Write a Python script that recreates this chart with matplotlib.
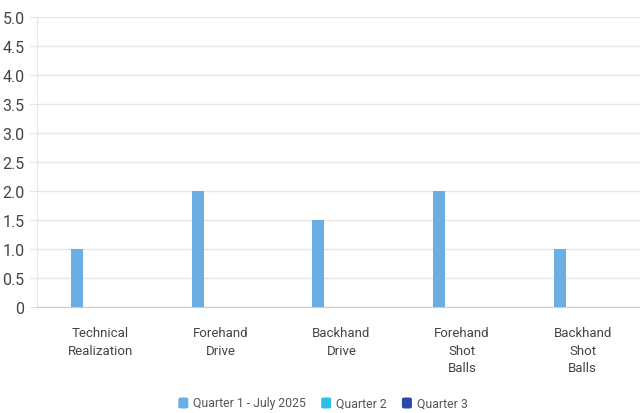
import matplotlib
matplotlib.use("Agg")
import matplotlib.pyplot as plt
import matplotlib.transforms as mtransforms
import numpy as np
from matplotlib.patches import FancyBboxPatch
from matplotlib.ticker import FuncFormatter

categories = ["Technical\nRealization", "Forehand\nDrive", "Backhand\nDrive",
              "Forehand\nShot\nBalls", "Backhand\nShot\nBalls"]
series_names = ["Quarter 1 - July 2025", "Quarter 2", "Quarter 3"]
q1 = [1, 2, 1.5, 2, 1]
q2 = [0, 0, 0, 0, 0]
q3 = [0, 0, 0, 0, 0]
colors = ["#6aaee3", "#2bbfe6", "#2e48a6"]

plt.rcParams["font.family"] = ["Roboto", "DejaVu Sans"]

W, H = 640, 414
fig = plt.figure(figsize=(W / 100, H / 100), dpi=100)
ax = fig.add_axes([0.058, 0.256, 0.942, 0.7])

x = np.arange(len(categories))
offsets = [-1 / 6, 0, 1 / 6]
width = 0.1
for vals, off, c, name in zip([q1, q2, q3], offsets, colors, series_names):
    ax.bar(x + off, vals, width=width, color=c, label=name, zorder=3)

ax.set_xlim(-0.5, len(categories) - 0.5)
ax.set_ylim(0, 5)
ax.set_yticks(np.arange(0, 5.01, 0.5))
ax.yaxis.set_major_formatter(FuncFormatter(lambda v, p: "0" if v == 0 else f"{v:.1f}"))
ax.set_xticks(x)
ax.set_xticklabels(categories, fontsize=9.5, color="#444444", linespacing=1.45)
ax.tick_params(axis="x", length=0, pad=14)
ax.tick_params(axis="y", length=6, color="#e6e6e6", labelsize=11.5, labelcolor="#444444", pad=3)
ax.grid(axis="y", color="#e6e6e6", linewidth=1, zorder=0)

shift = mtransforms.ScaledTranslation(3 / 100, 0, fig.dpi_scale_trans)
for lab in ax.get_xticklabels():
    lab.set_transform(lab.get_transform() + shift)

for s in ["top", "right"]:
    ax.spines[s].set_visible(False)
ax.spines["left"].set_color("#e6e6e6")
ax.spines["bottom"].set_color("#cccccc")

# legend drawn by hand so all items sit on one centre line
renderer = fig.canvas.get_renderer()
leg_y = 1 - 404 / H
box_w, gap, item_gap = 10, 5, 15
texts = [fig.text(0, leg_y, n, fontsize=8.8, color="#555555", va="center") for n in series_names]
widths = [t.get_window_extent(renderer).width for t in texts]
total = sum(box_w + gap + w for w in widths) + item_gap * (len(widths) - 1)
cur = (W - total) / 2 + 3
for t, w, c in zip(texts, widths, colors):
    fig.patches.append(FancyBboxPatch((cur / W, leg_y - 5.5 / H), box_w / W, 11 / H,
                                      boxstyle="round,pad=0,rounding_size=0.004",
                                      transform=fig.transFigure, facecolor=c, edgecolor="none"))
    t.set_x((cur + box_w + gap) / W)
    cur += box_w + gap + w + item_gap

fig.savefig("out.png", dpi=100)
